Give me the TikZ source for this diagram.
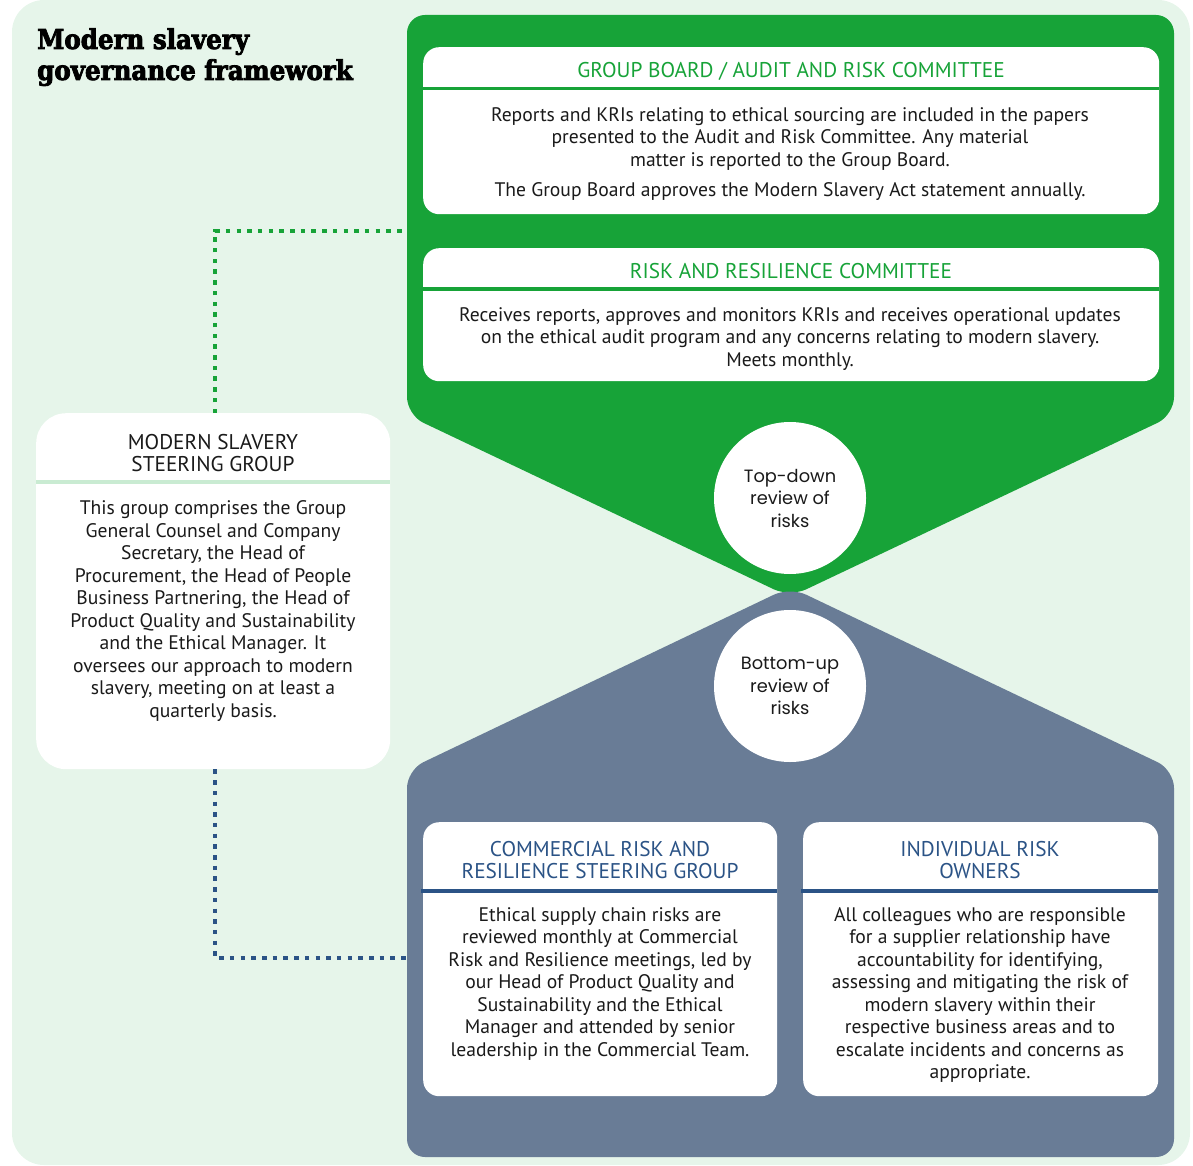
\documentclass[tikz,border=0pt]{standalone}
\usepackage{fontspec}
\setmainfont{PT Sans}
\newfontfamily\titlefont[BoldFeatures={FakeBold=3}]{DejaVu Serif Condensed}
\newfontfamily\roundfont{Poppins}

\definecolor{bggreen}{HTML}{E6F5EA}
\definecolor{brandgreen}{HTML}{17A338}
\definecolor{slate}{HTML}{697C96}
\definecolor{navy}{HTML}{2B5386}
\definecolor{paleline}{HTML}{C9EBD2}
\definecolor{ink}{HTML}{1A1A1A}

\tikzset{
  card/.style={draw=none, fill=white, rounded corners=16pt, inner sep=0pt, anchor=north west},
  sidecard/.style={card, rounded corners=30pt},
  bodytxt/.style={align=center, text=ink, inner sep=0pt,
    font=\fontsize{19.6}{22.5}\selectfont},
  headtxt/.style={align=center, inner sep=0pt,
    font=\fontsize{21.3}{22.5}\selectfont},
  roundtxt/.style={circle, fill=white, minimum size=152pt, inner sep=0pt, align=center,
    text=ink, font=\roundfont\fontsize{17.8}{22.5}\selectfont},
  greendots/.style={draw=brandgreen, line width=4.5pt, dash pattern=on 4.5pt off 6.2pt},
  navydots/.style={draw=navy, line width=4.5pt, dash pattern=on 4.5pt off 6.2pt},
}

\begin{document}
\begin{tikzpicture}[x=1pt, y=-1pt]
  \useasboundingbox (0,0) rectangle (1193,1166);

  % background panel
  \fill[bggreen, rounded corners=32pt] (12,0) rectangle (1190,1165);

  % green upper panel with downward point
  \fill[brandgreen, rounded corners=18pt]
    (407,415) -- (407,15) -- (1174,15) -- (1174,415) -- (790,597) -- cycle;
  % slate lower panel with upward point
  \fill[slate, rounded corners=18pt]
    (790,587) -- (1174,770) -- (1174,1157) -- (407,1157) -- (407,770) -- cycle;

  % title
  \node[anchor=north west, align=left, inner sep=0pt,
        font=\titlefont\bfseries\fontsize{27.3}{31}\selectfont]
    (title) at (37,28) {Modern slavery\\governance framework};

  % upper cards
  \node[card, minimum width=736pt, minimum height=167pt] (board) at (423,47) {};
  \draw[brandgreen, line width=3.5pt] (423,88.5) -- (1159,88.5);
  \node[headtxt, text=brandgreen] (boardhead) at (791,71) {GROUP BOARD / AUDIT AND RISK COMMITTEE};
  \node[bodytxt] (boardtxt) at (790,154) {Reports and KRIs relating to ethical sourcing are included in the papers\\
    presented to the Audit and Risk Committee. Any material\\
    matter is reported to the Group Board.\\[7.5pt]
    The Group Board approves the Modern Slavery Act statement annually.};

  \node[card, minimum width=736pt, minimum height=133pt] (rrc) at (423,248) {};
  \draw[brandgreen, line width=3.5pt] (423,289) -- (1159,289);
  \node[headtxt, text=brandgreen] (rrchead) at (791,271) {RISK AND RESILIENCE COMMITTEE};
  \node[bodytxt] (rrctxt) at (790,339) {Receives reports, approves and monitors KRIs and receives operational updates\\
    on the ethical audit program and any concerns relating to modern slavery.\\
    Meets monthly.};

  % review circles
  \node[roundtxt] (topdown) at (790,498) {Top-down\\review of\\risks};
  \node[roundtxt] (bottomup) at (790,686) {Bottom-up\\review of\\risks};

  % steering group card on the left
  \node[sidecard, minimum width=354pt, minimum height=356pt] (msg) at (36,413) {};
  \draw[paleline, line width=3.5pt] (36,482) -- (390,482);
  \node[headtxt, text=ink] (msghead) at (213,453) {MODERN SLAVERY\\STEERING GROUP};
  \node[bodytxt] (msgtxt) at (213,611) {This group comprises the Group\\
    General Counsel and Company\\
    Secretary, the Head of\\
    Procurement, the Head of People\\
    Business Partnering, the Head of\\
    Product Quality and Sustainability\\
    and the Ethical Manager. It\\
    oversees our approach to modern\\
    slavery, meeting on at least a\\
    quarterly basis.};

  % lower cards
  \node[card, minimum width=354pt, minimum height=274pt] (crsg) at (423,822) {};
  \draw[navy, line width=3.5pt] (421,891) -- (777,891);
  \node[headtxt, text=navy] (crsghead) at (600,860) {COMMERCIAL RISK AND\\RESILIENCE STEERING GROUP};
  \node[bodytxt] (crsgtxt) at (600,984) {Ethical supply chain risks are\\
    reviewed monthly at Commercial\\
    Risk and Resilience meetings, led by\\
    our Head of Product Quality and\\
    Sustainability and the Ethical\\
    Manager and attended by senior\\
    leadership in the Commercial Team.};

  \node[card, minimum width=355pt, minimum height=274pt] (iro) at (803,822) {};
  \draw[navy, line width=3.5pt] (801,891) -- (1158,891);
  \node[headtxt, text=navy] (irohead) at (980,860) {INDIVIDUAL RISK\\OWNERS};
  \node[bodytxt] (irotxt) at (980,995) {All colleagues who are responsible\\
    for a supplier relationship have\\
    accountability for identifying,\\
    assessing and mitigating the risk of\\
    modern slavery within their\\
    respective business areas and to\\
    escalate incidents and concerns as\\
    appropriate.};

  % dotted links from the steering group to both panels
  \coordinate (greenjoin) at (408,231);
  \coordinate (slatejoin) at (408,958);
  \draw[greendots] ([xshift=2pt]msg.north) |- (greenjoin);
  \draw[navydots] ([xshift=2pt]msg.south) |- (slatejoin);
\end{tikzpicture}
\end{document}
